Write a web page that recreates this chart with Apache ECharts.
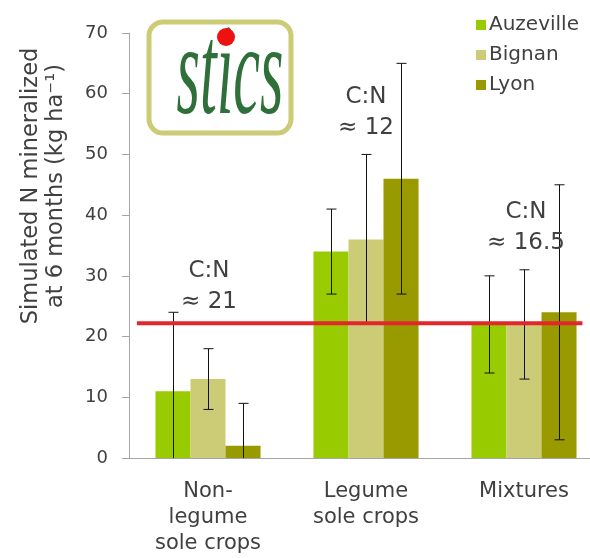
<!DOCTYPE html>
<html>
<head>
<meta charset="utf-8">
<script src="https://cdn.jsdelivr.net/npm/echarts@6/dist/echarts.min.js"></script>
<style>html,body{margin:0;padding:0;background:#fff;}#c{width:590px;height:558px;}</style>
</head>
<body>
<div id="c"></div>
<script>
const categories = ['Non-\nlegume\nsole crops', 'Legume\nsole crops', 'Mixtures'];
const sites = ['Auzeville', 'Bignan', 'Lyon'];
const auzeville = [11, 34, 22];
const bignan = [13, 36, 22];
const lyon = [2, 46, 24];
const auzevilleErr = [13, 7, 8];
const bignanErr = [5, 14, 9];
const lyonErr = [7, 19, 21];
const yTicks = [0, 10, 20, 30, 40, 50, 60, 70];
const thresholdValue = 22.2;
const cnLabels = ['C:N\n≈ 21', 'C:N\n≈ 12', 'C:N\n≈ 16.5'];

const values = [auzeville, bignan, lyon];
const errors = [auzevilleErr, bignanErr, lyonErr];
const colors = ['#99cc00', '#cccc77', '#999900'];
const catGap = 0.335;
const FONT = 'DejaVu Sans';
const txt = '#404040';

const chart = echarts.init(document.getElementById('c'), null, {renderer: 'canvas'});

const barSeries = sites.map((s, k) => ({
  name: s, type: 'bar', data: values[k],
  barGap: '0%', barCategoryGap: (catGap * 100) + '%',
  itemStyle: {color: colors[k]}, z: 2
}));

const errSeries = sites.map((s, k) => ({
  name: 'err-' + s, type: 'custom', z: 4,
  data: values[k].map((v, i) => [i, v, errors[k][i]]),
  encode: {x: 0, y: 1},
  clip: true,
  renderItem: function (params, api) {
    const ci = api.value(0), v = api.value(1), sd = api.value(2);
    const c = api.coord([ci, 0]);
    const band = api.size([1, 0])[0];
    const bw = band * (1 - catGap) / 3;
    const x = Math.round(c[0] + (k - 1) * bw) + 0.5;
    const lowV = v - sd;
    const hi = api.coord([ci, v + sd])[1];
    const lo = api.coord([ci, Math.max(0, lowV)])[1];
    const st = {stroke: '#111', lineWidth: 1};
    const ch = [
      {type: 'line', shape: {x1: x, y1: hi, x2: x, y2: lo}, style: st},
      {type: 'line', shape: {x1: x - 5, y1: hi, x2: x + 5, y2: hi}, style: st}
    ];
    if (lowV > 0) ch.push({type: 'line', shape: {x1: x - 5, y1: lo, x2: x + 5, y2: lo}, style: st});
    return {type: 'group', children: ch};
  }
}));

const cnPos = [[209, 287], [366, 113], [526, 228]];

chart.setOption({
  animation: false,
  backgroundColor: '#fff',
  textStyle: {fontFamily: FONT},
  grid: {left: 129, top: 33, bottom: 100, right: -13, outerBoundsMode: 'none', containLabel: false},
  legend: {
    data: sites, orient: 'vertical', left: 471, top: 10,
    itemWidth: 10, itemHeight: 10, itemGap: 10, icon: 'rect',
    textStyle: {fontFamily: FONT, fontSize: 20, color: txt, padding: [0, 0, 0, -2]}
  },
  xAxis: [{
    type: 'category', data: categories,
    axisLine: {lineStyle: {color: '#a6a6a6'}},
    axisTick: {show: false},
    axisLabel: {fontFamily: FONT, fontSize: 21, lineHeight: 26, color: txt, margin: 21, interval: 0}
  }, {
    type: 'value', min: 0, max: 3, show: false
  }],
  yAxis: {
    type: 'value', min: yTicks[0], max: yTicks[yTicks.length - 1], interval: yTicks[1] - yTicks[0],
    splitLine: {show: false},
    axisLine: {show: true, lineStyle: {color: '#a6a6a6'}},
    axisTick: {show: true, length: 7, lineStyle: {color: '#a6a6a6'}},
    axisLabel: {fontFamily: FONT, fontSize: 18, color: txt, margin: 21}
  },
  series: barSeries.concat(errSeries).concat([{
    name: 'threshold', type: 'line', xAxisIndex: 1, yAxisIndex: 0,
    data: [[0.05, thresholdValue], [2.87, thresholdValue]],
    symbol: 'none', lineStyle: {color: '#e3262b', width: 4}, z: 5, silent: true
  }]),
  graphic: [
    {
      type: 'text', x: 44, y: 186, rotation: Math.PI / 2,
      style: {text: 'Simulated N mineralized\nat 6 months (kg ha⁻¹)', font: '22.5px "DejaVu Sans"',
        fill: txt, align: 'center', verticalAlign: 'middle', lineHeight: 25}
    },
    {
      type: 'group', children: [
        {type: 'rect', shape: {x: 149, y: 22, width: 142, height: 111, r: 14},
         style: {fill: '#fff', stroke: '#cccc77', lineWidth: 5}},
        {type: 'text', x: 230, y: 79, scaleX: 0.97, scaleY: 2.1,
         style: {text: 'stics', font: 'italic 62px "Liberation Serif"', fill: '#2f6f3a',
           align: 'center', verticalAlign: 'middle'}},
        {type: 'circle', shape: {cx: 226, cy: 37, r: 9}, style: {fill: '#ee1111'}}
      ]
    }
  ].concat(cnLabels.map((t, i) => ({
    type: 'text', x: cnPos[i][0], y: cnPos[i][1],
    style: {text: t, font: '23px "DejaVu Sans"', fill: txt, align: 'center', verticalAlign: 'middle', lineHeight: 31},
    z: 10
  })))
});
</script>
</body>
</html>
